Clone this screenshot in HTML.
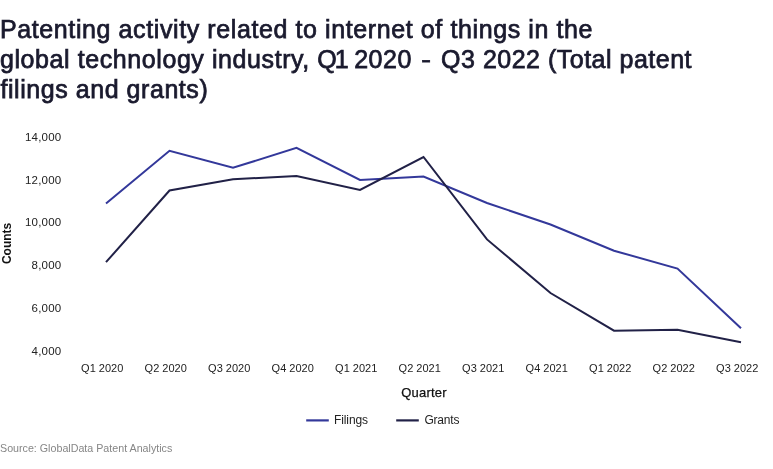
<!DOCTYPE html>
<html><head><meta charset="utf-8">
<style>
html,body{margin:0;padding:0;background:#fff;}
body{width:773px;height:469px;overflow:hidden;position:relative;font-family:"Liberation Sans",sans-serif;}
#title{position:absolute;left:0px;top:14px;margin:0;font-size:25px;line-height:30px;font-weight:400;color:#1a1a2e;-webkit-text-stroke:0.75px #1a1a2e;white-space:nowrap;}
#title>span{display:block;width:max-content;}
#t2 .a{letter-spacing:0.58px}#t2 .b{letter-spacing:-2px}#t2 .d{display:inline-block;transform:scaleX(0.55);}
#t1{letter-spacing:0.6px}#t2{letter-spacing:0.5px}#t3{letter-spacing:0.55px;margin-left:0.5px}
svg{position:absolute;left:0;top:0;}
svg text{font-family:"Liberation Sans",sans-serif;}
#src{position:absolute;left:0;top:441.5px;font-size:10.7px;line-height:12px;color:#868686;white-space:nowrap;}
</style></head><body>
<h1 id="title"><span id="t1">Patenting activity related to internet of things in the</span><span id="t2"><span class="a">global technology industry, </span><span class="b">Q1</span> 2020 <span class="d">–</span> Q3 2022 (Total patent</span><span id="t3">filings and grants)</span></h1>
<svg width="773" height="469" viewBox="0 0 773 469">
<g font-size="11.5" fill="#222" text-anchor="end" letter-spacing="0.2">
<text x="61.4" y="140.8">14,000</text>
<text x="61.4" y="183.6">12,000</text>
<text x="61.4" y="226.2">10,000</text>
<text x="61.4" y="268.8">8,000</text>
<text x="61.4" y="311.7">6,000</text>
<text x="61.4" y="354.5">4,000</text>
</g>
<text transform="translate(11,243.4) rotate(-90)" font-size="12" font-weight="bold" fill="#111" text-anchor="middle">Counts</text>
<g font-size="11" fill="#222" text-anchor="middle">
<text x="102.2" y="371.8">Q1 2020</text>
<text x="165.7" y="371.8">Q2 2020</text>
<text x="229.2" y="371.8">Q3 2020</text>
<text x="292.7" y="371.8">Q4 2020</text>
<text x="356.2" y="371.8">Q1 2021</text>
<text x="419.7" y="371.8">Q2 2021</text>
<text x="483.2" y="371.8">Q3 2021</text>
<text x="546.7" y="371.8">Q4 2021</text>
<text x="610.2" y="371.8">Q1 2022</text>
<text x="673.7" y="371.8">Q2 2022</text>
<text x="737.2" y="371.8">Q3 2022</text>
</g>
<text x="424" y="396.8" font-size="13" fill="#111" text-anchor="middle" stroke="#111" stroke-width="0.25" letter-spacing="0.2">Quarter</text>
<polyline fill="none" stroke="#33389a" stroke-width="2" points="106,203.6 169.5,150.8 233,167.8 296.5,147.9 360,180 423.5,176.5 487,203 550.5,224.5 614,250.7 677.5,268.6 741,328.2"/>
<polyline fill="none" stroke="#212147" stroke-width="2" points="106,262.2 169.5,190.5 233,179.3 296.5,176 360,190 423.5,157 487,239.4 550.5,293 614,330.7 677.5,329.8 741,342.2"/>
<line x1="306.2" y1="420.4" x2="328.8" y2="420.4" stroke="#33389a" stroke-width="2.2"/>
<text x="334" y="423.7" font-size="12" letter-spacing="-0.1" fill="#222">Filings</text>
<line x1="396.2" y1="420.4" x2="418.8" y2="420.4" stroke="#212147" stroke-width="2.2"/>
<text x="424.4" y="423.7" font-size="12" letter-spacing="-0.2" fill="#222">Grants</text>
</svg>
<div id="src">Source: GlobalData Patent Analytics</div>
</body></html>
